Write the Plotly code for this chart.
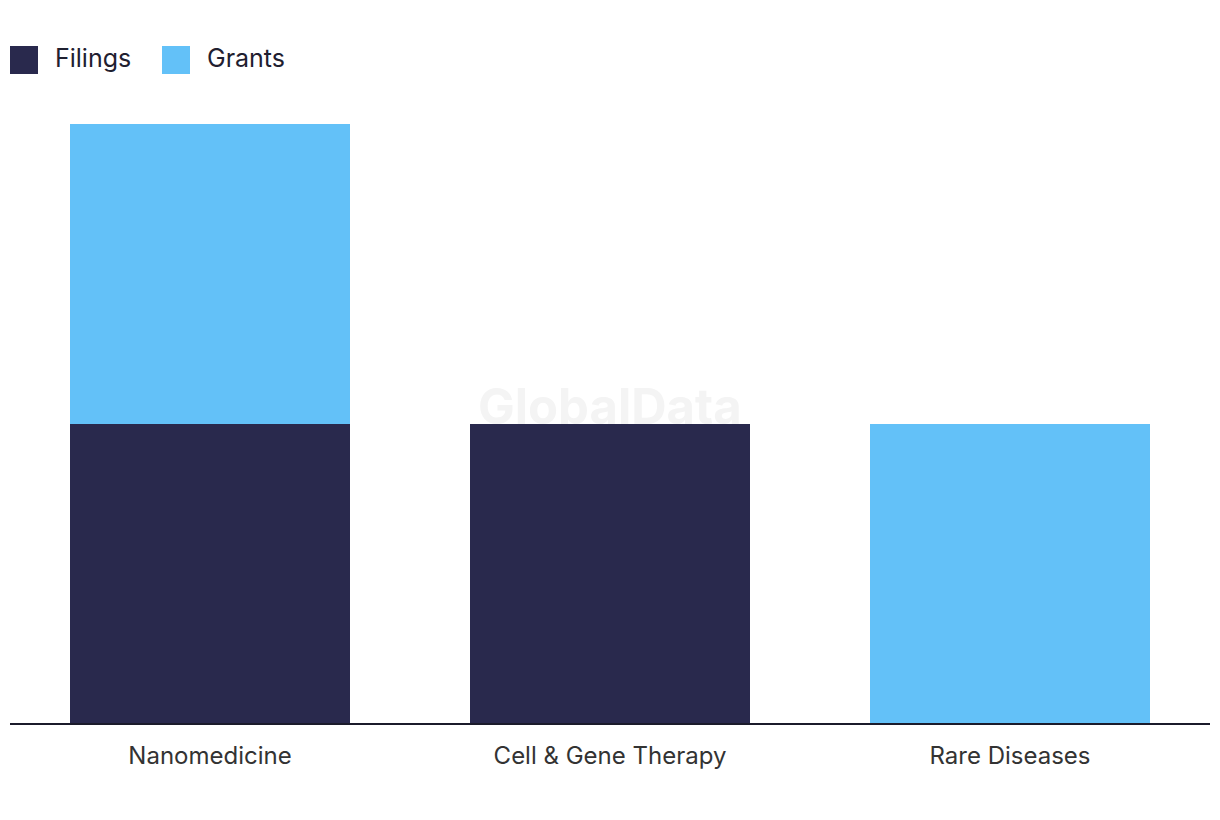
import plotly.graph_objects as go

categories = ["Nanomedicine", "Cell & Gene Therapy", "Rare Diseases"]
filings = [1, 1, 0]
grants = [1, 0, 1]
series_names = ["Filings", "Grants"]
colors = ["#29294d", "#63c1f8"]

FONT = "Inter, Roboto, sans-serif"

W, H = 1204, 804
L, R, T, B = 2, 2, 116, 89
PW = W - L - R
PH = H - T - B

fig = go.Figure()
fig.add_trace(go.Bar(x=categories, y=filings, name=series_names[0], marker=dict(color=colors[0], line=dict(width=0)), showlegend=False))
fig.add_trace(go.Bar(x=categories, y=grants, name=series_names[1], marker=dict(color=colors[1], line=dict(width=0)), showlegend=False))

# custom legend (positions in page pixels of the reference, converted to paper)
def px_x(px):
    return (px - 8 - L) / PW

def px_y(py):
    return (H - B - (py - 8)) / PH

legend_x = [10, 162]
for i, name in enumerate(series_names):
    x0 = legend_x[i]
    fig.add_shape(type="rect", xref="paper", yref="paper",
                  x0=px_x(x0), x1=px_x(x0 + 28),
                  y0=px_y(74), y1=px_y(46),
                  fillcolor=colors[i], line=dict(width=0), layer="above")
    fig.add_annotation(xref="paper", yref="paper", x=px_x(x0 + 43), y=px_y(58),
                       text=name, showarrow=False, xanchor="left", yanchor="middle",
                       font=dict(family=FONT, size=25, color="#1f2030"))

# watermark
fig.add_annotation(x=1, y=1, xref="x", yref="y", text="<b>GlobalData</b>", showarrow=False,
                   yanchor="bottom", yshift=-14, font=dict(family=FONT, size=49, color="#f4f4f4"))

fig.update_layout(
    barmode="stack",
    bargap=0.3,
    width=W, height=H,
    margin=dict(l=L, r=R, t=T, b=B),
    plot_bgcolor="white", paper_bgcolor="white",
    font=dict(family=FONT, size=24, color="#333333"),
    xaxis=dict(showline=True, linecolor="#1b1b2b", linewidth=2, ticks="", showgrid=False,
               ticklabelstandoff=10, tickfont=dict(size=24, color="#333333")),
    yaxis=dict(visible=False, range=[0, 2], showgrid=False, zeroline=False),
)

fig.write_html("out.html")
